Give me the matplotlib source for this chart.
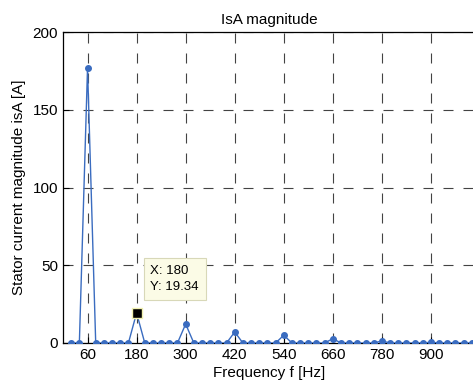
import matplotlib.pyplot as plt
import numpy as np

plt.rcParams['font.family'] = ['Liberation Sans', 'DejaVu Sans']

# spectrum samples every 20 Hz
freq = np.arange(20, 1001, 20)
harm_freq = [60, 180, 300, 420, 540, 660, 780, 900]
harm_amp = [177.0, 19.34, 12.2, 7.1, 5.0, 2.8, 1.3, 0.5]

mag = np.zeros(len(freq))
for f, a in zip(harm_freq, harm_amp):
    mag[freq == f] = a

xticks = [60, 180, 300, 420, 540, 660, 780, 900]
yticks = [0, 50, 100, 150, 200]
tip_x, tip_y = 180, 19.34

fig = plt.figure(figsize=(4.73, 3.92), dpi=100)
ax = fig.add_axes([0.1332, 0.125, 0.873, 0.793])

ax.plot(freq, mag, color='#3a6cc0', lw=1.0, marker='o', ms=4,
        markerfacecolor='#3a6cc0', markeredgecolor='#3a6cc0', zorder=3)

ax.set_xlim(0, 1010)
ax.set_ylim(0, 200)
ax.set_xticks(xticks)
ax.set_yticks(yticks)
ax.tick_params(direction='in', length=4, width=0.8, labelsize=11,
               top=False, right=False)
ax.grid(True, color='#222222', linestyle=(0, (9, 9)), lw=0.8, alpha=0.85)
for s in ax.spines.values():
    s.set_linewidth(0.9)

ax.set_title('IsA magnitude', fontsize=11)
ax.set_xlabel('Frequency f [Hz]', fontsize=11, labelpad=3)
ax.set_ylabel('Stator current magnitude isA [A]', fontsize=11, labelpad=5)

# data cursor
ax.plot(tip_x, tip_y, marker='s', ms=7, color='black',
        markeredgecolor='#f0f0b0', mew=1.0, zorder=5)
ax.annotate(f'X: {tip_x}\nY: {tip_y}', xy=(tip_x, tip_y), xytext=(10, 14),
            textcoords='offset points', fontsize=9.5, linespacing=1.5,
            va='bottom', ha='left',
            bbox=dict(boxstyle='square,pad=0.5', fc='#fbfbe6', ec='#d8d8b8', lw=0.8),
            zorder=6)

fig.savefig('out.png', dpi=100)
